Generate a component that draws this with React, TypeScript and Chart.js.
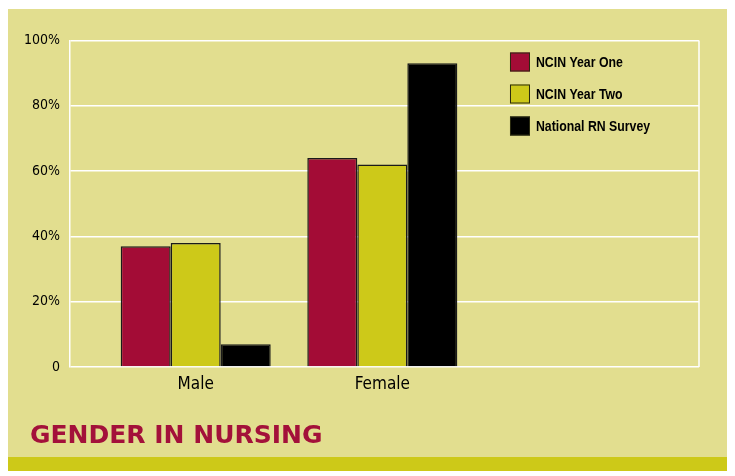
import React, { useEffect, useRef } from 'react';
import { Chart, registerables } from 'chart.js';

Chart.register(...registerables);

const categories = ['Male', 'Female'];
const seriesLabels = ['NCIN Year One', 'NCIN Year Two', 'National RN Survey'];
const ncinYearOne = [37, 64];
const ncinYearTwo = [38, 62];
const nationalRN = [7, 93];
const yTicks = [0, 20, 40, 60, 80, 100];
const chartTitle = 'GENDER IN NURSING';

const seriesColors = ['#a30c36', '#cdc919', '#000000'];
const COND = '"DejaVu Sans Condensed", "Liberation Sans Narrow", Arial, sans-serif';
const ARIAL = '"Liberation Sans", Arial, sans-serif';

const legendPlugin = {
  id: 'innerLegend',
  afterDatasetsDraw(chart: any) {
    const { ctx, chartArea } = chart;
    const x0 = chartArea.left + (chartArea.right - chartArea.left) * 0.6995;
    ctx.save();
    chart.data.datasets.forEach((ds: any, i: number) => {
      const y = chartArea.top + 12 + i * 32;
      ctx.fillStyle = ds.backgroundColor;
      ctx.fillRect(x0, y, 20, 19);
      ctx.strokeStyle = '#2a2a10';
      ctx.lineWidth = 1;
      ctx.strokeRect(x0 + 0.5, y + 0.5, 19, 18);
      ctx.save();
      ctx.translate(x0 + 26, y + 10);
      ctx.scale(0.82, 1);
      ctx.fillStyle = '#000000';
      ctx.font = `bold 15px ${ARIAL}`;
      ctx.textBaseline = 'middle';
      ctx.textAlign = 'left';
      ctx.fillText(ds.label, 0, 0);
      ctx.restore();
    });
    ctx.restore();
  },
};

const framePlugin = {
  id: 'frameRight',
  beforeDatasetsDraw(chart: any) {
    const { ctx, chartArea } = chart;
    ctx.save();
    ctx.strokeStyle = '#ffffff';
    ctx.lineWidth = 1.5;
    ctx.beginPath();
    ctx.moveTo(chartArea.right, chartArea.top);
    ctx.lineTo(chartArea.right, chartArea.bottom);
    ctx.stroke();
    ctx.restore();
  },
};

const titlePlugin = {
  id: 'bottomTitle',
  afterDraw(chart: any) {
    const { ctx } = chart;
    ctx.save();
    ctx.fillStyle = '#a3113a';
    ctx.font = `bold 25px "DejaVu Sans", Arial, sans-serif`;
    ctx.textBaseline = 'alphabetic';
    ctx.textAlign = 'left';
    ctx.fillText(chartTitle, 22, 434);
    ctx.restore();
  },
};

export default function App() {
  const ref = useRef<HTMLCanvasElement>(null);

  useEffect(() => {
    if (!ref.current) return;
    const mk = (vals: number[]) => categories.map((_, i) => ({ x: i + 1, y: vals[i] }));
    const chart = new Chart(ref.current, {
      type: 'bar',
      data: {
        datasets: [ncinYearOne, ncinYearTwo, nationalRN].map((vals, i) => ({
          label: seriesLabels[i],
          data: mk(vals),
          backgroundColor: seriesColors[i],
          borderColor: '#1a1a1a',
          borderWidth: 1.5,
          barPercentage: 1,
          categoryPercentage: 0.804,
        })),
      },
      options: {
        responsive: false,
        animation: false,
        layout: { padding: { left: 8, right: 29, top: 31.5, bottom: 62 } },
        plugins: {
          legend: { display: false },
          tooltip: { enabled: false },
          title: { display: false },
        },
        scales: {
          x: {
            type: 'linear',
            min: 0.3264,
            max: 3.697,
            offset: false,
            afterBuildTicks: (scale: any) => {
              scale.ticks = categories.map((_, i) => ({ value: i + 1 }));
            },
            afterFit: (scale: any) => {
              scale.height = 28;
            },
            ticks: {
              callback: (v: any) => categories[Number(v) - 1] ?? '',
              color: '#000000',
              font: { family: COND, size: 17 },
              padding: 7,
              autoSkip: false,
              maxRotation: 0,
            },
            grid: { display: false, drawTicks: false, offset: false },
            border: { display: false },
          },
          y: {
            min: 0,
            max: 100,
            afterBuildTicks: (scale: any) => {
              scale.ticks = yTicks.map((v) => ({ value: v }));
            },
            afterFit: (scale: any) => {
              scale.width = 54;
            },
            ticks: {
              callback: (v: any) => (Number(v) === 0 ? '0' : `${v}%`),
              color: '#000000',
              font: { family: COND, size: 14 },
              padding: 10,
            },
            grid: { color: '#ffffff', lineWidth: 1.5, drawTicks: false },
            border: { color: '#ffffff', width: 1.5 },
          },
        },
      },
      plugins: [framePlugin, legendPlugin, titlePlugin],
    } as any);
    return () => chart.destroy();
  }, []);

  return (
    <div style={{ width: 720, marginTop: 1, background: '#e2de8f' }}>
      <canvas ref={ref} width={720} height={448} style={{ display: 'block' }} />
      <div style={{ height: 14, background: '#cdc918' }} />
    </div>
  );
}
